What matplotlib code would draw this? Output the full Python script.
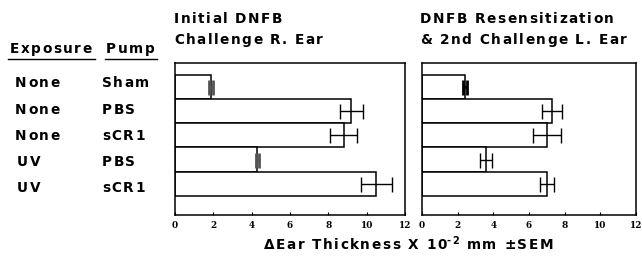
import matplotlib as mpl
from matplotlib import pyplot as plt
from matplotlib.lines import Line2D
from matplotlib.font_manager import FontProperties, findfont, get_font

# data
exposure = ["None", "None", "None", "UV", "UV"]
pump = ["Sham", "PBS", "sCR1", "PBS", "sCR1"]
initial_mean = [1.9, 9.2, 8.8, 4.3, 10.5]
initial_sem = [0.1, 0.6, 0.7, 0.1, 0.8]
second_mean = [2.4, 7.3, 7.0, 3.6, 7.0]
second_sem = [0.1, 0.57, 0.78, 0.32, 0.4]
xticks = [0, 2, 4, 6, 8, 10, 12]

W, H = 642, 257
DPI = 100
FAM = 'DejaVu Sans'
mpl.rcParams['font.family'] = FAM

fig = plt.figure(figsize=(W / DPI, H / DPI), dpi=DPI)

def px_axes(x0, y0, x1, y1):
    return fig.add_axes([x0 / W, 1 - y1 / H, (x1 - x0) / W, (y1 - y0) / H])

def tracked(x, y, s, size=9.8, track=1.5, dy=0):
    # draw text char by char with extra letter spacing (px), returns end x
    prop = FontProperties(family=FAM, weight='bold', size=size)
    font = get_font(findfont(prop))
    font.set_size(size, DPI)
    for ch in s:
        if ch != ' ':
            fig.text(x / W, 1 - (y - dy) / H, ch, fontproperties=prop, va='baseline')
        g = font.load_char(ord(ch))
        x += g.linearHoriAdvance / 65536 + track
    return x

def panel(ax, means, sems, small_color):
    ypos = list(range(len(means)))
    ax.barh(ypos, means, height=1.0, color='white', edgecolor='black', linewidth=1.1)
    for m, s, y in zip(means, sems, ypos):
        tiny = s <= 0.15
        ax.errorbar(m, y, xerr=s, fmt='none',
                    ecolor=small_color if tiny else 'black',
                    elinewidth=2.5 if tiny else 1.0, capsize=5.4,
                    capthick=2.0 if tiny else 1.0)
    ax.set_xlim(0, 12)
    ax.set_ylim(5.28, -0.98)
    ax.set_yticks([])
    ax.set_xticks(xticks)
    ax.tick_params(axis='x', direction='in', length=2, pad=4)
    for lab in ax.get_xticklabels():
        lab.set_fontfamily('DejaVu Serif')
        lab.set_fontweight('bold')
        lab.set_fontsize(6.4)
    for sp in ax.spines.values():
        sp.set_linewidth(1.1)

ax1 = px_axes(175, 63, 405, 215)
panel(ax1, initial_mean, initial_sem, '#555555')
ax2 = px_axes(422, 63, 636, 215)
panel(ax2, second_mean, second_sem, 'black')

tracked(174, 23, "Initial DNFB")
tracked(174, 44, "Challenge R. Ear")
tracked(420, 23, "DNFB Resensitization")
tracked(420, 44, "& 2nd Challenge L. Ear")

tracked(10, 53, "Exposure")
tracked(106, 53, "Pump")
fig.add_artist(Line2D([8 / W, 95 / W], [1 - 59 / H] * 2, color='black', lw=1.0))
fig.add_artist(Line2D([105 / W, 157 / W], [1 - 59 / H] * 2, color='black', lw=1.0))

baselines = [87, 114, 140, 166, 192]
for e, p, yb in zip(exposure, pump, baselines):
    tracked(15 if e == "None" else 17, yb, e)
    tracked(102, yb, p)

xe = tracked(264, 249, "\u0394Ear Thickness X 10")
xe = tracked(xe - 1, 249, "-2", size=7, track=0.8, dy=5)
tracked(xe + 1, 249, " mm \u00b1SEM")

plt.savefig('out.png', dpi=DPI)
